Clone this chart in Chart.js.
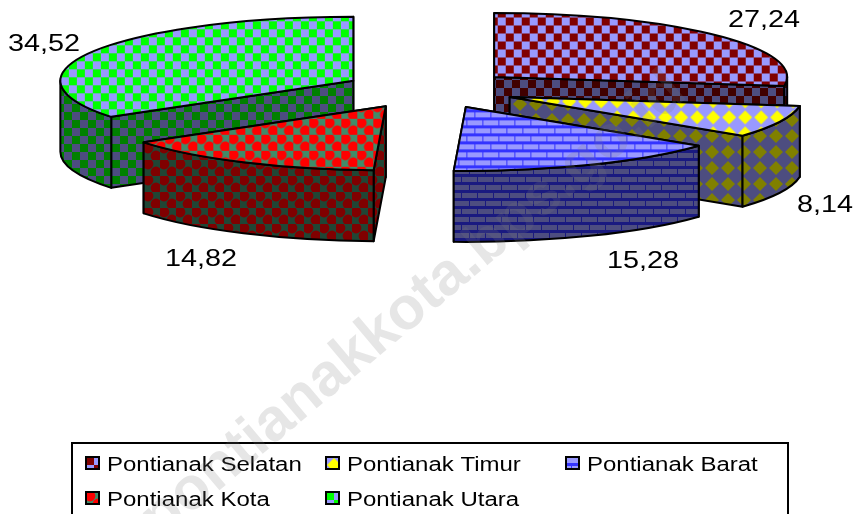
<!DOCTYPE html>
<html>
<head>
<meta charset="utf-8">
<style>html,body{margin:0;padding:0;background:#fff}canvas{display:block}</style>
<script src="https://cdn.jsdelivr.net/npm/chart.js@4"></script>
</head>
<body>
<canvas id="c" width="857" height="514"></canvas>
<script>
const categories = ['Pontianak Selatan','Pontianak Timur','Pontianak Barat','Pontianak Kota','Pontianak Utara'];
const values = [27.24, 8.14, 15.28, 14.82, 34.52];
const valueLabels = ['27,24','8,14','15,28','14,82','34,52'];
const explodeBySlice = [87,88,88,88,85];

const labelBaselines = [[728,27],[797,212],[607,268],[165,266],[8,51]];
const legendCols = [85,325,565], legendRows = [457,492];
const RADIUS = 293, SQUASH = 64/293, DEPTH = 71, STRETCH = 1.2;

function tile(w,h,paint){const t=document.createElement('canvas');t.width=w;t.height=h;paint(t.getContext('2d'));return t;}
const tiles = (dark)=>{
  const k = dark?0.5:1;
  const rgb=(r,g,b)=>`rgb(${Math.round(r*k)},${Math.round(g*k)},${Math.round(b*k)})`;
  const peri = rgb(153,153,255);
  const checker=(a,b)=>tile(16,16,c=>{c.fillStyle=b;c.fillRect(0,0,16,16);c.fillStyle=a;c.fillRect(0,0,8,8);c.fillRect(8,8,8,8);});
  return [
    checker(rgb(128,0,0),peri),
    tile(16,16,c=>{c.fillStyle=peri;c.fillRect(0,0,16,16);c.fillStyle=rgb(255,255,0);c.beginPath();c.moveTo(8,1);c.lineTo(15,8);c.lineTo(8,15);c.lineTo(1,8);c.closePath();c.fill();}),
    tile(16,16,c=>{c.fillStyle=rgb(51,51,255);c.fillRect(0,0,16,16);c.fillStyle=peri;c.fillRect(0,1,13,5);c.fillRect(14,1,2,5);c.fillRect(0,9,5,5);c.fillRect(6,9,10,5);}),
    tile(16,16,c=>{c.fillStyle=rgb(64,140,105);c.fillRect(0,0,16,16);c.fillStyle=rgb(255,0,0);
      [[4,4],[12,12]].forEach(p=>{c.beginPath();c.arc(p[0],p[1],5.4,0,7);c.fill();});}),
    checker(rgb(0,255,0),peri)
  ];
};
const ctx = document.getElementById('c').getContext('2d');
const lightTiles = tiles(false), darkTiles = tiles(true);
const topPatterns = lightTiles.map(t=>{const p=ctx.createPattern(t,'repeat');p.setTransform(new DOMMatrix().scale(1,1/SQUASH));return p;});
const wallPatterns = darkTiles.map(t=>ctx.createPattern(t,'repeat'));
const iconPatterns = lightTiles.map(t=>ctx.createPattern(t,'repeat'));

function stretchedText(c,text,x,y,font){
  c.save();c.font=font;c.fillStyle='#000';c.textBaseline='alphabetic';c.textAlign='left';
  c.translate(x,y);c.scale(STRETCH,1);c.fillText(text,0,0);c.restore();
}

const pie3d = {
  id:'pie3d',
  beforeDatasetsDraw(chart){
    const c=chart.ctx, arcs=chart.getDatasetMeta(0).data;
    const items=arcs.map((arc,i)=>{
      const m=(arc.startAngle+arc.endAngle)/2, d=explodeBySlice[i];
      return {arc,i,ox:arc.x+d*Math.cos(m),oy:arc.y+d*Math.sin(m)*SQUASH};
    }).sort((a,b)=>a.oy-b.oy);
    c.save();
    c.lineJoin='round';c.strokeStyle='#000';c.lineWidth=2;
    items.forEach(({arc,i,ox,oy})=>{
      const a0=arc.startAngle,a1=arc.endAngle;
      const P=a=>[ox+RADIUS*Math.cos(a),oy+RADIUS*SQUASH*Math.sin(a)];
      c.fillStyle=wallPatterns[i];
      [a0,a1].map(a=>({p:P(a)})).sort((u,v)=>u.p[1]-v.p[1]).forEach(({p})=>{
        c.beginPath();c.moveTo(ox,oy);c.lineTo(p[0],p[1]);c.lineTo(p[0],p[1]+DEPTH);c.lineTo(ox,oy+DEPTH);c.closePath();c.fill();c.stroke();
      });
      const lo=Math.max(a0,0),hi=Math.min(a1,Math.PI);
      if(lo<hi){
        c.beginPath();c.ellipse(ox,oy,RADIUS,RADIUS*SQUASH,0,lo,hi);
        c.ellipse(ox,oy+DEPTH,RADIUS,RADIUS*SQUASH,0,hi,lo,true);c.closePath();c.fill();c.stroke();
      }
      c.save();c.translate(ox,oy);c.scale(1,SQUASH);c.translate(-arc.x,-arc.y);arc.draw(c);c.restore();
      const s=P(a0);
      c.beginPath();c.moveTo(ox,oy);c.lineTo(s[0],s[1]);c.ellipse(ox,oy,RADIUS,RADIUS*SQUASH,0,a0,a1);c.closePath();c.stroke();
    });
    c.restore();
    return false;
  },
  afterDraw(chart){
    const c=chart.ctx;
    valueLabels.forEach((t,i)=>stretchedText(c,t,labelBaselines[i][0],labelBaselines[i][1],'24px "Liberation Sans"'));
    c.save();c.strokeStyle='#000';c.lineWidth=2;c.strokeRect(72,443,716,80);c.restore();
    chart.data.labels.forEach((t,i)=>{
      const x=legendCols[i%3],y=legendRows[Math.floor(i/3)];
      c.save();c.translate(x+1,y);c.fillStyle=iconPatterns[i];c.fillRect(0,0,13,12);
      c.strokeStyle='#000';c.lineWidth=2;c.strokeRect(0,0,13,12);c.restore();
      stretchedText(c,t,x+22,y+13.5,'20px "Liberation Sans"');
    });
    c.save();c.translate(160,540);c.rotate(-40*Math.PI/180);c.font='bold 60px "Liberation Sans"';
    c.fillStyle='rgba(120,120,120,0.19)';c.fillText('pontianakkota.bps.go.id',0,0);c.restore();
  }
};

new Chart(ctx,{
  type:'pie',
  data:{labels:categories,datasets:[{data:values,backgroundColor:topPatterns,borderWidth:0}]},
  options:{
    responsive:false,animation:false,events:[],radius:RADIUS,rotation:0,
    layout:{padding:{bottom:335}},
    plugins:{legend:{display:false},tooltip:{enabled:false},title:{display:false}}
  },
  plugins:[pie3d]
});
</script>
</body>
</html>
